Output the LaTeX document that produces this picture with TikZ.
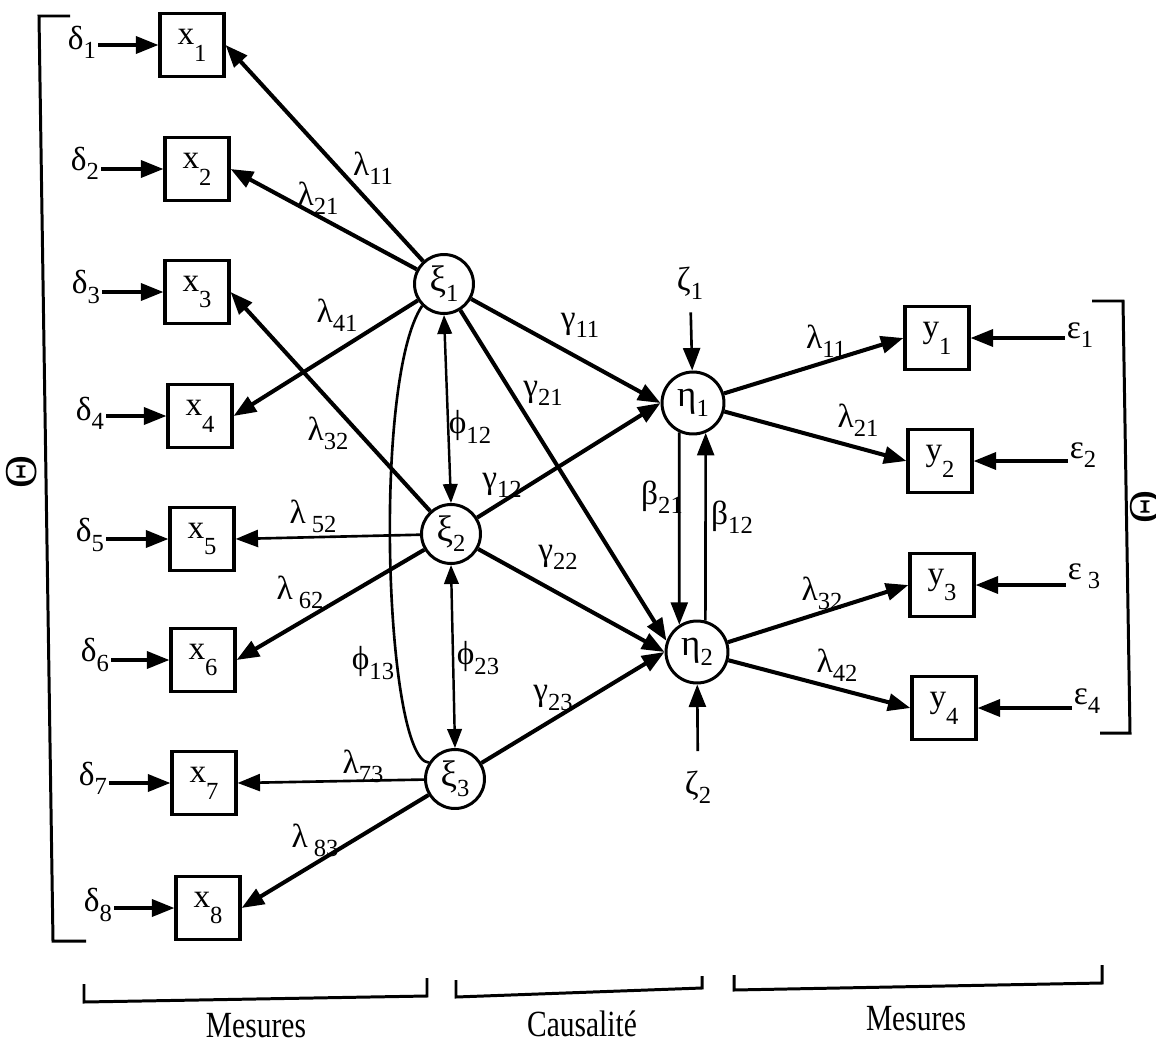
\documentclass[tikz,border=0pt]{standalone}
\usepackage{fontspec}
\setmainfont{Liberation Serif}
\usetikzlibrary{arrows.meta}
\newcommand\gsub[2]{#1\raisebox{-0.6ex}{\fontsize{14}{15}\selectfont #2}}
\newcommand\xsub[2]{#1\raisebox{-1.1ex}{\fontsize{14}{15}\selectfont #2}}
\begin{document}
\begin{tikzpicture}[x=0.02cm,y=-0.02cm,
  every node/.style={font=\fontsize{19}{21}\selectfont, inner sep=1pt},
  obs/.style={draw, line width=1.8pt, minimum width=1.28cm, minimum height=1.26cm, inner sep=0pt},
  lat/.style={draw, circle, line width=1.7pt, minimum size=1.18cm, inner sep=0pt, font=\fontsize{21}{23}\selectfont},
  tipA/.style={-{Triangle[length=0.45cm,width=0.34cm]}},
  heavy/.style={tipA, line width=2.3pt},
  medium/.style={tipA, line width=2pt},
  light/.style={tipA, line width=1.5pt},
  dbl/.style={{Triangle[length=0.38cm,width=0.29cm]}-{Triangle[length=0.38cm,width=0.29cm]}, line width=1.4pt},
  brk/.style={line width=1.7pt},
  botlabel/.style={font=\fontsize{21}{23}\selectfont, xscale=0.8},
  theta/.style={rotate=90, font=\fontsize{26}{28}\selectfont, inner sep=0pt}
]
\useasboundingbox (0,0) rectangle (1156,1048);

% observed x
\node[obs] (x1) at (192,45) {\xsub{x}{1}};
\node[obs] (x2) at (197,169) {\xsub{x}{2}};
\node[obs] (x3) at (197,292) {\xsub{x}{3}};
\node[obs] (x4) at (200,416) {\xsub{x}{4}};
\node[obs] (x5) at (202,539) {\xsub{x}{5}};
\node[obs] (x6) at (203,660) {\xsub{x}{6}};
\node[obs] (x7) at (204,783) {\xsub{x}{7}};
\node[obs] (x8) at (208,908) {\xsub{x}{8}};

% deltas
\node (d1) at (82,42) {\gsub{δ}{1}};
\node (d2) at (85,163) {\gsub{δ}{2}};
\node (d3) at (86,287) {\gsub{δ}{3}};
\node (d4) at (90,413) {\gsub{δ}{4}};
\node (d5) at (90,535) {\gsub{δ}{5}};
\node (d6) at (95,655) {\gsub{δ}{6}};
\node (d7) at (93,778) {\gsub{δ}{7}};
\node (d8) at (98,905) {\gsub{δ}{8}};
\foreach \i in {1,...,8}{\draw[medium] (d\i.east |- x\i.west) -- (x\i.west);}

% latent
\node[lat] (xi1) at (444,284) {\gsub{ξ}{1}};
\node[lat] (xi2) at (451,534) {\gsub{ξ}{2}};
\node[lat] (xi3) at (455,779) {\gsub{ξ}{3}};
\node[lat, minimum size=1.24cm] (eta1) at (693,403) {\gsub{η}{1}};
\node[lat, minimum size=1.24cm] (eta2) at (697,652) {\gsub{η}{2}};

% observed y
\node[obs] (y1) at (937,338) {\xsub{y}{1}};
\node[obs] (y2) at (940,461) {\xsub{y}{2}};
\node[obs] (y3) at (942,585) {\xsub{y}{3}};
\node[obs] (y4) at (944,708) {\xsub{y}{4}};

% epsilons
\node (e1) at (1080,335) {\gsub{ε}{1}};
\node (e2) at (1083,455) {\gsub{ε}{2}};
\node (e3) at (1084,576) {\gsub{ε}{ 3}};
\node (e4) at (1087,701) {\gsub{ε}{4}};
\foreach \i in {1,...,4}{\draw[medium] (e\i.west |- y\i.east) -- (y\i.east);}

% zetas
\node (z1) at (690,283) {\gsub{ζ}{1}};
\node (z2) at (698,787) {\gsub{ζ}{2}};
\draw[light, shorten <=0.22cm] (z1) -- (eta1);
\draw[light, shorten <=0.35cm] (z2) -- (eta2);

% loadings x
\draw[heavy] (xi1) -- (x1.east);
\draw[heavy] (xi1) -- (x2.east);
\draw[heavy] (xi1) -- (x4.east);
\draw[heavy] (xi2) -- (x3.east);
\draw[light] (xi2) -- (x5.east);
\draw[heavy] (xi2) -- (x6.east);
\draw[light] (xi3) -- (x7.east);
\draw[heavy] (xi3) -- (x8.east);

% covariances
\draw[dbl] (xi1.south) -- (xi2.north);
\draw[dbl] (xi2.south) -- (xi3.north);
\draw[line width=1.5pt] (xi1.225) .. controls (372,380) and (385,760) .. (xi3.148);

% structural
\draw[heavy] (xi1) -- (eta1.west);
\draw[heavy] (xi1) -- (eta2.160);
\draw[heavy] (xi2) -- (eta1.west);
\draw[heavy] (xi2) -- (eta2.west);
\draw[heavy] (xi3) -- (eta2.west);
\draw[light] (eta1.245) -- (eta2.123);
\draw[light] (eta2.75) -- (eta1.293);

% loadings y
\draw[heavy] (eta1) -- (y1.west);
\draw[heavy] (eta1) -- (y2.west);
\draw[heavy] (eta2) -- (y3.west);
\draw[heavy] (eta2) -- (y4.west);

% labels
\node (l11) at (373,168) {\gsub{λ}{11}};
\node (l21) at (318,198) {\gsub{λ}{21}};
\node (l41) at (337,315) {\gsub{λ}{41}};
\node (l32) at (328,433) {\gsub{λ}{32}};
\node (l52) at (313,516) {\gsub{λ}{ 52}};
\node (l62) at (300,592) {\gsub{λ}{ 62}};
\node (l73) at (363,766) {\gsub{λ}{73}};
\node (l83) at (315,840) {\gsub{λ}{ 83}};
\node (p12) at (470,427) {\gsub{ϕ}{12}};
\node (p13) at (373,663) {\gsub{ϕ}{13}};
\node (p23) at (478,658) {\gsub{ϕ}{23}};
\node (g11) at (580,325) {\gsub{γ}{11}};
\node (g21) at (543,393) {\gsub{γ}{21}};
\node (g12) at (502,485) {\gsub{γ}{12}};
\node (g22) at (558,557) {\gsub{γ}{22}};
\node (g23) at (553,698) {\gsub{γ}{23}};
\node (b21) at (662,497) {\gsub{β}{21}};
\node (b12) at (732,517) {\gsub{β}{12}};
\node (r11) at (826,341) {\gsub{λ}{11}};
\node (r21) at (858,420) {\gsub{λ}{21}};
\node (r32) at (822,593) {\gsub{λ}{32}};
\node (r42) at (837,665) {\gsub{λ}{42}};

% Theta brackets
\draw[brk] (70,16) -- (39,16) -- (53,941) -- (86,941);
\node[theta] (thL) at (22,472) {Θ};
\draw[brk] (1092,301) -- (1123,301) -- (1130,733) -- (1100,733);
\node[theta] (thR) at (1146,507) {Θ};

% bottom brackets
\draw[brk] (84,984) -- (84,1002) -- (427,996) -- (427,978);
\draw[brk] (456,980) -- (456,997) -- (702,988) -- (702,976);
\draw[brk] (734,975) -- (734,990) -- (1102,983) -- (1102,965);
\node[botlabel] (m1) at (256,1026) {Mesures};
\node[botlabel] (m2) at (582,1024) {Causalité};
\node[botlabel] (m3) at (916,1019) {Mesures};
\end{tikzpicture}
\end{document}
